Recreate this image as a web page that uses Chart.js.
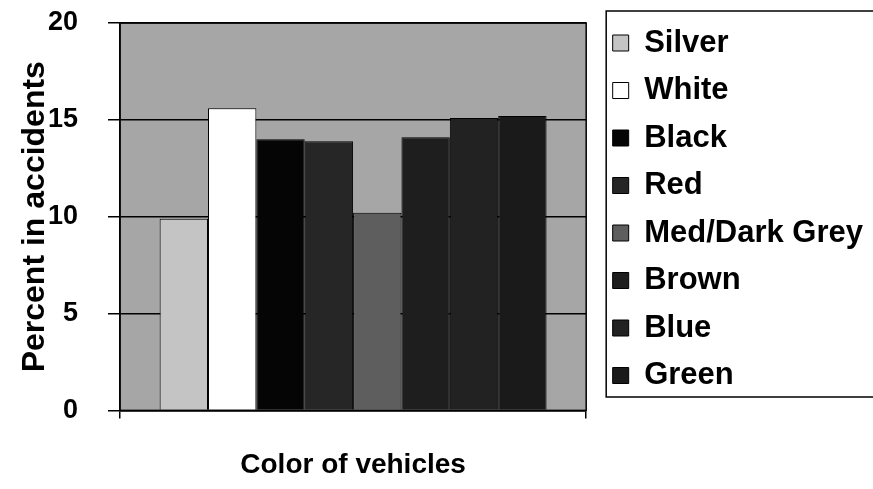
<!DOCTYPE html>
<html>
<head>
<meta charset="utf-8">
<script src="https://cdn.jsdelivr.net/npm/chart.js@4"></script>
<style>
    body { margin: 0; background: #fff; }
    #wrap { width: 873px; height: 489px; }
</style>
</head>
<body>
<div id="wrap"><canvas id="chart-cores"></canvas></div>
<script>
// Percent in accidents by vehicle colour
const CORES_NOMES = ['Silver', 'White', 'Black', 'Red', 'Med/Dark Grey', 'Brown', 'Blue', 'Green'];
const PERCENTUAIS = [9.9, 15.6, 14.0, 13.9, 10.2, 14.1, 15.1, 15.2];
const CORES_BARRAS = ['#c4c4c4', '#ffffff', '#050505', '#262626', '#5e5e5e', '#1e1e1e', '#222222', '#1a1a1a'];
const TICKS_Y = [0, 5, 10, 15, 20];

Chart.defaults.font.family = "'Liberation Sans', Arial, sans-serif";
Chart.defaults.font.weight = 'bold';
Chart.defaults.color = '#000';

// fundo cinza da area do grafico + moldura + caixa da legenda
const fundoPlot = {
    id: 'fundoPlot',
    beforeDraw(chart) {
        const a = chart.chartArea;
        const ctx = chart.ctx;
        ctx.save();
        ctx.fillStyle = '#a6a6a6';
        ctx.fillRect(a.left, a.top, a.right - a.left, a.bottom - a.top);
        ctx.restore();
    },
    afterDraw(chart) {
        const a = chart.chartArea;
        const ctx = chart.ctx;
        ctx.save();
        ctx.strokeStyle = '#000';
        ctx.lineWidth = 1.5;
        ctx.strokeRect(a.left, a.top, a.right - a.left, a.bottom - a.top);

        const lg = chart.legend;
        const boxes = lg.legendHitBoxes;
        if (boxes && boxes.length) {
            const ult = boxes[boxes.length - 1];
            const x0 = lg.left + 10;
            const y1 = ult.top + ult.height + 6;
            ctx.strokeRect(x0, lg.top, chart.width - x0 + 5, y1 - lg.top);
        }
        ctx.restore();
    }
};

const datasets = CORES_NOMES.map((nome, i) => ({
    label: nome,
    data: [PERCENTUAIS[i]],
    backgroundColor: CORES_BARRAS[i],
    borderColor: '#000',
    borderWidth: 1,
    categoryPercentage: 0.83,
    barPercentage: 1.0
}));

new Chart(document.getElementById('chart-cores'), {
    type: 'bar',
    data: {
        labels: [''],
        datasets
    },
    options: {
        responsive: true,
        maintainAspectRatio: false,
        animation: false,
        layout: { padding: { top: 11, left: 0, bottom: 1, right: 0 } },
        plugins: {
            legend: {
                position: 'right',
                align: 'start',
                maxWidth: 300,
                labels: {
                    boxWidth: 16,
                    boxHeight: 16,
                    padding: 16.5,
                    color: '#000',
                    font: { size: 31, weight: 'bold' }
                }
            },
            tooltip: { enabled: false }
        },
        scales: {
            x: {
                grid: { display: true, drawOnChartArea: false, tickLength: 8, color: '#000', lineWidth: 1.5, offset: true },
                border: { color: '#000', width: 1.5 },
                ticks: { display: false },
                title: {
                    display: true,
                    text: 'Color of vehicles',
                    color: '#000',
                    font: { size: 28, weight: 'bold' },
                    padding: { top: 30, bottom: 6 }
                }
            },
            y: {
                min: 0,
                max: 20,
                afterBuildTicks: (s) => { s.ticks = TICKS_Y.map(v => ({ value: v })); },
                afterFit: (s) => { s.width = 120; s.paddingTop = 23; s.paddingBottom = 10; },
                grid: { color: '#000', lineWidth: 1.5, tickLength: 12 },
                border: { color: '#000', width: 1.5 },
                ticks: {
                    padding: 30,
                    color: '#000',
                    font: { size: 27, weight: 'bold' }
                },
                title: {
                    display: true,
                    text: 'Percent in accidents',
                    color: '#000',
                    font: { size: 32, weight: 'bold' },
                    padding: 16
                }
            },
            y2: {
                position: 'right',
                display: true,
                grid: { display: false },
                border: { display: false },
                ticks: { display: false },
                afterFit: (s) => { s.width = 10; }
            }
        }
    },
    plugins: [fundoPlot]
});
</script>
</body>
</html>
